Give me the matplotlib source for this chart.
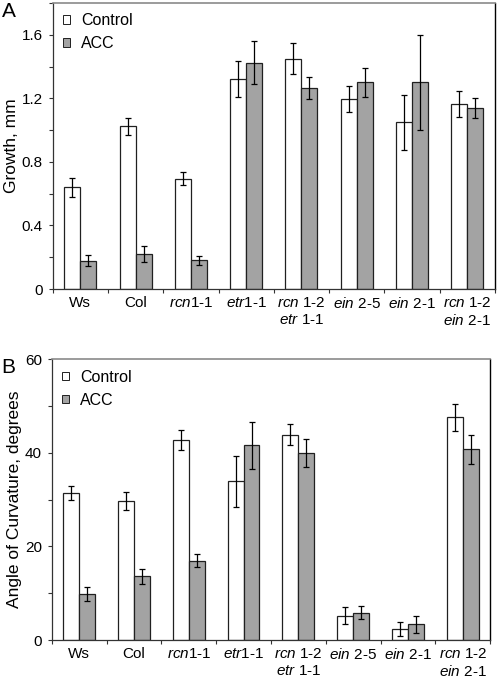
import numpy as np
import matplotlib
matplotlib.use('Agg')
import matplotlib.pyplot as plt
from matplotlib.ticker import MultipleLocator

plt.rcParams['font.family'] = ['Liberation Sans', 'DejaVu Sans']
plt.rcParams['mathtext.fontset'] = 'custom'
plt.rcParams['mathtext.rm'] = 'Liberation Sans'
plt.rcParams['mathtext.it'] = 'Liberation Sans:italic'

labels = ['Ws', 'Col', r'$\it{rcn}$1-1', r'$\it{etr}$1-1',
          r'$\it{rcn}$ 1-2' + '\n' + r'$\it{etr}$ 1-1',
          r'$\it{ein}$ 2-5', r'$\it{ein}$ 2-1',
          r'$\it{rcn}$ 1-2' + '\n' + r'$\it{ein}$ 2-1']

# panel A: growth, mm
growth_ctrl = [0.64, 1.025, 0.695, 1.32, 1.45, 1.195, 1.05, 1.165]
growth_ctrl_err = [0.06, 0.053, 0.04, 0.112, 0.097, 0.083, 0.174, 0.084]
growth_acc = [0.178, 0.22, 0.18, 1.425, 1.265, 1.30, 1.30, 1.14]
growth_acc_err = [0.035, 0.048, 0.026, 0.137, 0.067, 0.089, 0.30, 0.062]
growth_ticks = [0, 0.4, 0.8, 1.2, 1.6]
growth_ticklabels = ['0', '0.4', '0.8', '1.2', '1.6']

# panel B: angle of curvature, degrees
angle_ctrl = [31.4, 29.7, 42.8, 33.9, 43.9, 5.2, 2.4, 47.6]
angle_ctrl_err = [1.55, 2.0, 2.1, 5.4, 2.2, 1.8, 1.5, 2.9]
angle_acc = [9.8, 13.6, 16.9, 41.6, 40.0, 5.85, 3.35, 40.8]
angle_acc_err = [1.55, 1.55, 1.4, 5.1, 3.0, 1.45, 1.8, 3.1]

ctrl_color = 'white'
acc_color = '#a3a3a3'
edge = '#202020'

fig = plt.figure(figsize=(4.98, 6.81), dpi=100)


def panel(ax, ctrl, ctrl_err, acc, acc_err, ylim, major, minor, ylabel, letter):
    x = np.arange(len(labels))
    w = 0.29
    ekw = dict(ecolor='black', elinewidth=0.9, capsize=2.5, capthick=0.9)
    ax.bar(x - w / 2, ctrl, w, yerr=ctrl_err, color=ctrl_color, edgecolor=edge,
           linewidth=0.9, label='Control', error_kw=ekw)
    ax.bar(x + w / 2, acc, w, yerr=acc_err, color=acc_color, edgecolor=edge,
           linewidth=0.9, label='ACC', error_kw=ekw)
    ax.set_xlim(-0.5, len(labels) - 0.5)
    ax.set_ylim(*ylim)
    ax.yaxis.set_major_locator(MultipleLocator(major))
    ax.yaxis.set_minor_locator(MultipleLocator(minor))
    ax.set_xticks(x)
    ax.set_xticklabels(labels, fontsize=11, va='top', linespacing=1.25)
    ax.tick_params(axis='x', which='major', length=0, pad=5)
    ax.set_xticks(np.arange(len(labels) + 1) - 0.5, minor=True)
    ax.tick_params(axis='x', which='minor', length=3, width=0.8, color='#333333')
    ax.tick_params(axis='y', which='both', length=3, width=0.8, color='#333333',
                   labelsize=11, pad=4)
    for s in ['left', 'bottom']:
        ax.spines[s].set_color('#333333')
        ax.spines[s].set_linewidth(0.9)
    ax.spines['top'].set_color('#8a8a8a')
    ax.spines['top'].set_linewidth(1.2)
    ax.spines['right'].set_color('black')
    ax.spines['right'].set_linewidth(1.0)
    ax.set_ylabel(ylabel, fontsize=12.5, labelpad=2)
    leg = ax.legend(loc='upper left', frameon=False, fontsize=11.5,
                    handlelength=0.45, handleheight=0.45, handletextpad=0.7,
                    labelspacing=0.5, borderaxespad=0.25, bbox_to_anchor=(0.0, 1.0))
    for h in leg.legend_handles:
        h.set_linewidth(0.7)
    fig.text(0.003, ax.get_position().y1 + 0.002, letter, fontsize=15, va='top', ha='left')


axA = fig.add_axes([0.1058, 0.5756, 0.888, 0.42])
panel(axA, growth_ctrl, growth_ctrl_err, growth_acc, growth_acc_err,
      (0, 1.8), 0.4, 0.2, 'Growth, mm', 'A')
axA.set_yticks(growth_ticks)
axA.set_yticklabels(growth_ticklabels)

axB = fig.add_axes([0.1038, 0.0602, 0.8807, 0.4122])
panel(axB, angle_ctrl, angle_ctrl_err, angle_acc, angle_acc_err,
      (0, 60), 20, 10, 'Angle of Curvature, degrees', 'B')

fig.savefig('out.png', dpi=100)
